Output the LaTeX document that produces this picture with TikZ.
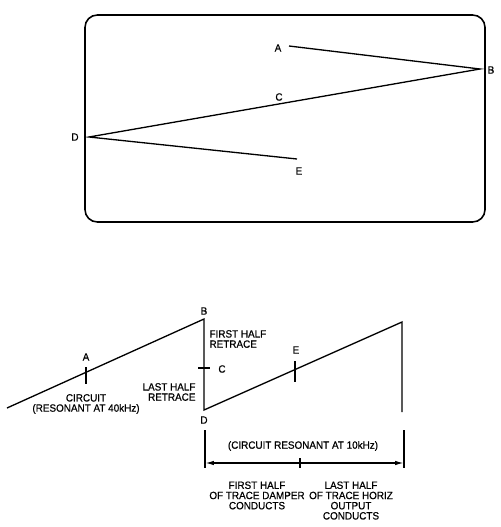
\documentclass[tikz,border=0pt]{standalone}
\usepackage{fontspec}
\setmainfont[FakeBold=0.6,FakeStretch=0.94]{Liberation Sans}
\usetikzlibrary{arrows.meta}

\begin{document}
\begin{tikzpicture}[x=0.02cm,y=-0.02cm,line width=0.75pt,
    lbl/.style={font=\fontsize{6}{5.8}\selectfont,inner sep=0.5pt,align=center}]
        \useasboundingbox (0,0) rectangle (500,527);
        % --- Screen trace ---
        \draw[line width=0.9pt,rounded corners=7] (85,15) rectangle (485,222);
        \coordinate (sA) at (289,46);
        \coordinate (sB) at (480,69);
        \coordinate (sD) at (89,137);
        \coordinate (sE) at (297,159);
        \draw (sA) -- (sB) -- (sD) -- (sE);
        \node[lbl] (slA) at (278,48) {A};
        \node[lbl] (slB) at (491,70) {B};
        \node[lbl] (slC) at (279,97) {C};
        \node[lbl] (slD) at (75,137) {D};
        \node[lbl] (slE) at (299,171) {E};

        % --- Sawtooth waveform ---
        \coordinate (w0) at (7,408);
        \coordinate (wB) at (204,319);
        \coordinate (wD) at (204,410);
        \coordinate (wT) at (402,322);
        \coordinate (wR) at (402,412);
        \draw (w0) -- (wB) -- (wD) -- (wT) -- (wR);
        % ticks
        \draw (86,367) -- (86,384);
        \draw (198,368) -- (210,368);
        \draw (295,361) -- (295,382);
        \node[lbl] (wlA) at (86,357) {A};
        \node[lbl] (wlB) at (204,311) {B};
        \node[lbl] (wlC) at (222,369) {C};
        \node[lbl] (wlD) at (204,420) {D};
        \node[lbl] (wlE) at (296,350) {E};
        \node[lbl,anchor=west,align=left] (first) at (208,339) {FIRST HALF\\RETRACE};
        \node[lbl,anchor=east,align=right] (last) at (197,392) {LAST HALF\\RETRACE};
        \node[lbl] (c40) at (86,404) {CIRCUIT\\(RESONANT AT 40kHz)};

        % --- Trace time span ---
        \coordinate (t0) at (205,430);
        \coordinate (t1) at (404,430);
        \draw (t0) -- ++(0,38);
        \draw (t1) -- ++(0,38);
        \draw[{Latex[length=5pt,width=2.5pt]}-{Latex[length=5pt,width=2.5pt]}] (205,463) -- (404,463);
        \draw (300,458) -- (300,468);
        \node[lbl] (c10) at (303,446) {(CIRCUIT RESONANT AT 10kHz)};
        \node[lbl,anchor=north] (damper) at (257,480) {FIRST HALF\\OF TRACE DAMPER\\CONDUCTS};
        \node[lbl,anchor=north] (horiz) at (351,480) {LAST HALF\\OF TRACE HORIZ\\OUTPUT\\CONDUCTS};
\end{tikzpicture}
\end{document}
